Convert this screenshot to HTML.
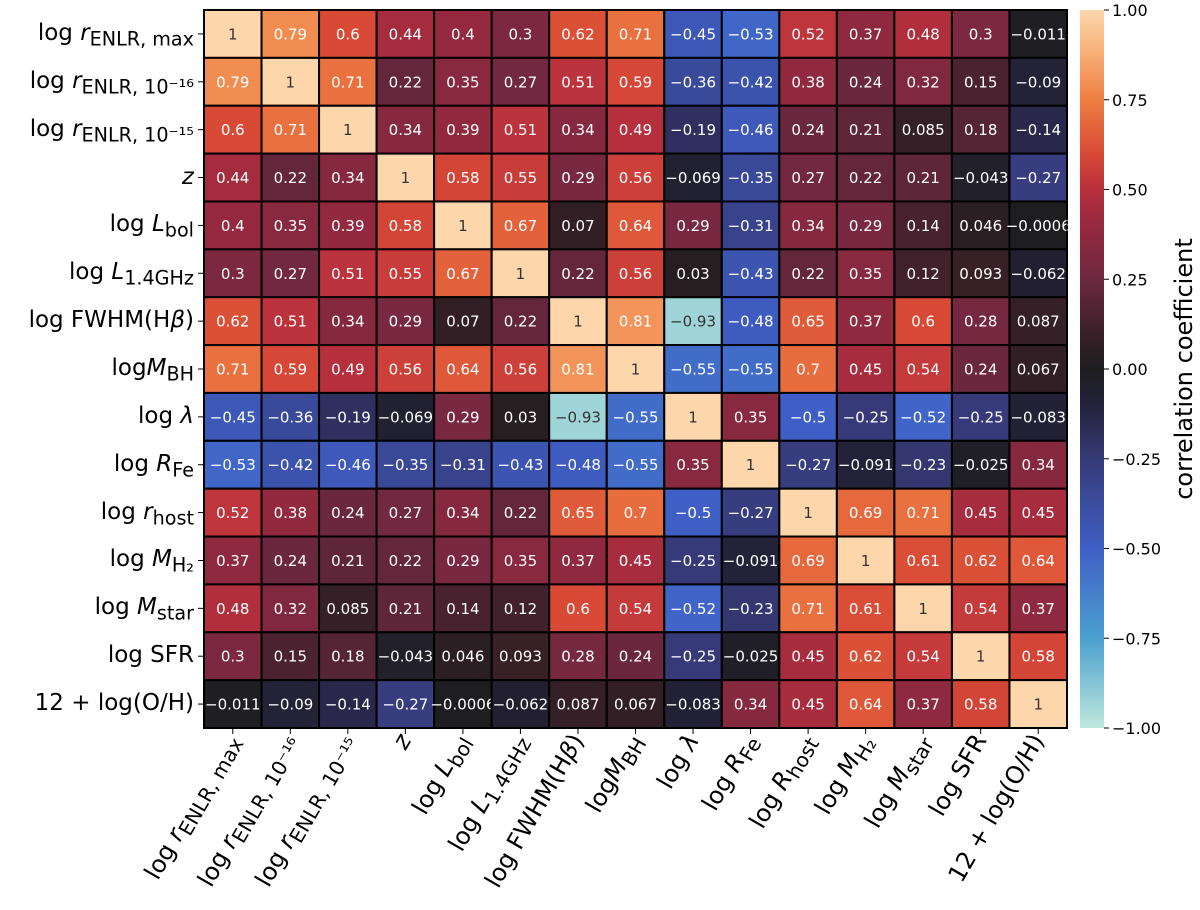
<!DOCTYPE html>
<html><head><meta charset="utf-8"><style>
html,body{margin:0;background:#fff;overflow:hidden;width:1200px;height:910px}
svg{display:block}
</style></head><body>
<svg id="c" width="1200" height="910" xmlns="http://www.w3.org/2000/svg" style="font-family:'DejaVu Sans','Liberation Sans',sans-serif"></svg>
<script>
const labels=['log <i>r</i><sub>ENLR, max</sub>','log <i>r</i><sub>ENLR, 10⁻¹⁶</sub>','log <i>r</i><sub>ENLR, 10⁻¹⁵</sub>','<i>z</i>','log <i>L</i><sub>bol</sub>','log <i>L</i><sub>1.4GHz</sub>','log FWHM(H<i>β</i>)','log<i>M</i><sub>BH</sub>','log <i>λ</i>','log <i>R</i><sub>Fe</sub>','log <i>r</i><sub>host</sub>','log <i>M</i><sub>H₂</sub>','log <i>M</i><sub>star</sub>','log SFR','12 + log(O/H)'];
const xlabels=labels.slice();xlabels[10]='log <i>R</i><sub>host</sub>';
const matrix=[
[1,0.79,0.6,0.44,0.4,0.3,0.62,0.71,-0.45,-0.53,0.52,0.37,0.48,0.3,-0.011],
[0.79,1,0.71,0.22,0.35,0.27,0.51,0.59,-0.36,-0.42,0.38,0.24,0.32,0.15,-0.09],
[0.6,0.71,1,0.34,0.39,0.51,0.34,0.49,-0.19,-0.46,0.24,0.21,0.085,0.18,-0.14],
[0.44,0.22,0.34,1,0.58,0.55,0.29,0.56,-0.069,-0.35,0.27,0.22,0.21,-0.043,-0.27],
[0.4,0.35,0.39,0.58,1,0.67,0.07,0.64,0.29,-0.31,0.34,0.29,0.14,0.046,-0.0006],
[0.3,0.27,0.51,0.55,0.67,1,0.22,0.56,0.03,-0.43,0.22,0.35,0.12,0.093,-0.062],
[0.62,0.51,0.34,0.29,0.07,0.22,1,0.81,-0.93,-0.48,0.65,0.37,0.6,0.28,0.087],
[0.71,0.59,0.49,0.56,0.64,0.56,0.81,1,-0.55,-0.55,0.7,0.45,0.54,0.24,0.067],
[-0.45,-0.36,-0.19,-0.069,0.29,0.03,-0.93,-0.55,1,0.35,-0.5,-0.25,-0.52,-0.25,-0.083],
[-0.53,-0.42,-0.46,-0.35,-0.31,-0.43,-0.48,-0.55,0.35,1,-0.27,-0.091,-0.23,-0.025,0.34],
[0.52,0.38,0.24,0.27,0.34,0.22,0.65,0.7,-0.5,-0.27,1,0.69,0.71,0.45,0.45],
[0.37,0.24,0.21,0.22,0.29,0.35,0.37,0.45,-0.25,-0.091,0.69,1,0.61,0.62,0.64],
[0.48,0.32,0.085,0.21,0.14,0.12,0.6,0.54,-0.52,-0.23,0.71,0.61,1,0.54,0.37],
[0.3,0.15,0.18,-0.043,0.046,0.093,0.28,0.24,-0.25,-0.025,0.45,0.62,0.54,1,0.58],
[-0.011,-0.09,-0.14,-0.27,-0.0006,-0.062,0.087,0.067,-0.083,0.34,0.45,0.64,0.37,0.58,1]];
const cbTicks=[1,0.75,0.5,0.25,0,-0.25,-0.5,-0.75,-1];
const stops=[[-1,[191,232,220]],[-0.75,[75,160,208]],[-0.5,[63,95,198]],[-0.25,[54,58,120]],[-0.1,[36,34,58]],[0,[30,30,32]],[0.1,[58,32,40]],[0.25,[109,40,64]],[0.4,[150,41,63]],[0.5,[184,48,61]],[0.6,[216,74,54]],[0.75,[239,126,66]],[0.9,[249,182,127]],[1,[253,214,172]]];
function col(v){for(let i=0;i<stops.length-1;i++){const a=stops[i],b=stops[i+1];if(v<=b[0]){const t=(v-a[0])/(b[0]-a[0]);const c=a[1].map((x,k)=>Math.round(x+(b[1][k]-x)*t));return 'rgb('+c.join(',')+')';}}return 'rgb(253,214,172)';}
const X0=204,Y0=10,W=863,H=718,n=15,cw=W/n,ch=H/n;
const sx=i=>X0+i*cw, sy=j=>Y0+j*ch;
const svg=document.getElementById('c');const NS='http://www.w3.org/2000/svg';
function mk(t,a,p){const e=document.createElementNS(NS,t);for(const k in a)e.setAttribute(k,a[k]);(p||svg).appendChild(e);return e;}
function fmt(v){return String(v).replace('-','−');}
matrix.forEach((row,j)=>row.forEach((v,i)=>{
 const r=mk('rect',{x:sx(i),y:sy(j),width:cw,height:ch,fill:col(v),stroke:'#000','stroke-width':2});
 
 
 const light=v>0.9||v<-0.85;
 const t=mk('text',{x:sx(i)+cw/2,y:sy(j)+ch/2+5.5,'text-anchor':'middle','font-size':15,fill:light?'#333':'#fff'});
 
 
 t.textContent=fmt(v);
}));
mk('rect',{x:X0,y:Y0,width:W,height:H,fill:'none',stroke:'#000','stroke-width':1});
labels.forEach((l,j)=>{
 mk('line',{x1:X0-6,x2:X0,y1:sy(j)+ch/2,y2:sy(j)+ch/2,stroke:'#000'});
 const f=mk('foreignObject',{x:0,y:sy(j)+ch/2-20,width:X0-10,height:44});
 
 
 const d=document.createElement('div');d.setAttribute('style',"font:23px 'DejaVu Sans','Liberation Sans',sans-serif;text-align:right;white-space:nowrap;line-height:38px");d.innerHTML=l;f.appendChild(d);
});
xlabels.forEach((l,i)=>{
 const cx=sx(i)+cw/2;
 mk('line',{x1:cx,x2:cx,y1:Y0+H,y2:Y0+H+6,stroke:'#000'});
 const g=mk('g',{transform:'translate('+(cx+10)+','+(Y0+H+14)+') rotate(-60)'});
 const f=mk('foreignObject',{x:-320,y:-30,width:320,height:44},g);
 
 
 const d=document.createElement('div');d.setAttribute('style',"font:24px 'DejaVu Sans','Liberation Sans',sans-serif;text-align:right;white-space:nowrap;line-height:36px");d.innerHTML=l;f.appendChild(d);
});
const CX=1080,CW=24;const cy=v=>Y0+(1-v)/2*H;
const defs=mk('defs',{});const lg=mk('linearGradient',{id:'cg',x1:0,y1:1,x2:0,y2:0},defs);
for(let k=0;k<=40;k++){const v=-1+k/20;mk('stop',{offset:(k/40),'stop-color':col(v)},lg);}
const cb=mk('rect',{x:CX,y:Y0,width:CW,height:H,fill:'url(#cg)'});


cbTicks.forEach(v=>{mk('line',{x1:CX+CW,x2:CX+CW+5,y1:cy(v),y2:cy(v),stroke:'#000'});
 const t=mk('text',{x:CX+CW+8,y:cy(v)+6,'font-size':16,fill:'#000'});
 
 
 t.textContent=(v<0?'−':'')+Math.abs(v).toFixed(2);});
const ct=mk('text',{x:1192,y:Y0+H/2,'font-size':24,'text-anchor':'middle',transform:'rotate(-90 1192 '+(Y0+H/2)+')'});


ct.textContent='correlation coefficient';
</script>
</body></html>
